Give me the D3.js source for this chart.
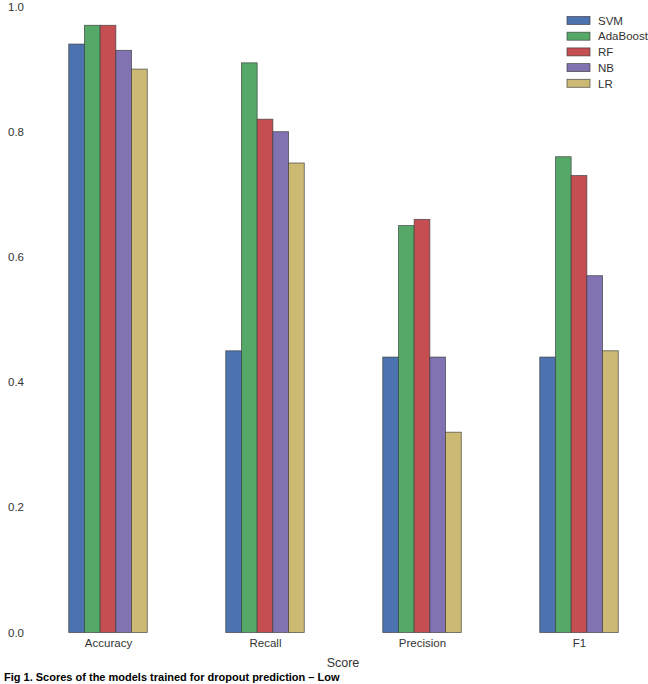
<!DOCTYPE html>
<html>
<head>
<meta charset="utf-8">
<script src="https://cdn.jsdelivr.net/npm/d3@7"></script>
<style>
  html, body { margin: 0; padding: 0; background: #fff; }
  svg { display: block; font-family: "Liberation Sans", Arial, sans-serif; }
</style>
</head>
<body>
<svg id="chart" width="648" height="684"></svg>
<script>
const categories = ["Accuracy", "Recall", "Precision", "F1"];
const models = ["SVM", "AdaBoost", "RF", "NB", "LR"];
const svmValues = [0.94, 0.45, 0.44, 0.44];
const adaValues = [0.97, 0.91, 0.65, 0.76];
const rfValues  = [0.97, 0.82, 0.66, 0.73];
const nbValues  = [0.93, 0.80, 0.44, 0.57];
const lrValues  = [0.90, 0.75, 0.32, 0.45];
const yTicks = [0.0, 0.2, 0.4, 0.6, 0.8, 1.0];
const colors = ["#4C72B0", "#55A868", "#C44E52", "#8172B2", "#CCB974"];
const xLabel = "Score";
const caption = "Fig 1. Scores of the models trained for dropout prediction \u2013 Low";

const series = [svmValues, adaValues, rfValues, nbValues, lrValues];
const svg = d3.select("#chart");

const x = d3.scaleLinear().domain([-0.5, categories.length - 0.5]).range([29.5, 657.5]);
const y = d3.scaleLinear().domain([0, 1]).range([632.5, 6.5]);
const barW = 0.1;

// bars
series.forEach((vals, si) => {
  svg.append("g").selectAll("rect")
    .data(vals)
    .join("rect")
    .attr("x", (d, i) => x(i + (si - 2.5) * barW))
    .attr("width", x(barW) - x(0))
    .attr("y", d => y(d))
    .attr("height", d => y(0) - y(d))
    .attr("fill", colors[si])
    .attr("stroke", "#3a3a3a")
    .attr("stroke-opacity", 0.8)
    .attr("stroke-width", 0.8);
});

// y axis tick labels
const yAxis = d3.axisLeft(y).tickValues(yTicks).tickFormat(d3.format(".1f")).tickSize(0).tickPadding(0);
const yg = svg.append("g").attr("transform", "translate(24,0)").call(yAxis);
yg.select(".domain").remove();
yg.selectAll("text").attr("font-size", 11.5).attr("fill", "#333").attr("font-family", "Liberation Sans, Arial, sans-serif");

// x axis labels
const xAxis = d3.axisBottom(x).tickValues(d3.range(categories.length)).tickFormat(i => categories[i]).tickSize(0).tickPadding(0);
const xg = svg.append("g").attr("transform", "translate(0,639)").call(xAxis);
xg.select(".domain").remove();
xg.selectAll("text").attr("font-size", 11.5).attr("fill", "#333").attr("font-family", "Liberation Sans, Arial, sans-serif");

// x axis title
svg.append("text").attr("x", 343).attr("y", 667).attr("text-anchor", "middle")
  .attr("font-size", 12.5).attr("fill", "#333").text(xLabel);

// legend
const lg = svg.append("g");
models.forEach((m, i) => {
  const cy = 20.5 + i * 15.7;
  lg.append("rect").attr("x", 567).attr("y", cy - 4).attr("width", 23).attr("height", 8)
    .attr("fill", colors[i]).attr("stroke", "#3a3a3a").attr("stroke-opacity", 0.8).attr("stroke-width", 0.8);
  lg.append("text").attr("x", 598).attr("y", cy + 4.2).attr("font-size", 11.5).attr("fill", "#333").text(m);
});

// caption
svg.append("text").attr("x", 4).attr("y", 681).attr("font-size", 11).attr("font-weight", "bold")
  .attr("fill", "#000").text(caption);
</script>
</body>
</html>
